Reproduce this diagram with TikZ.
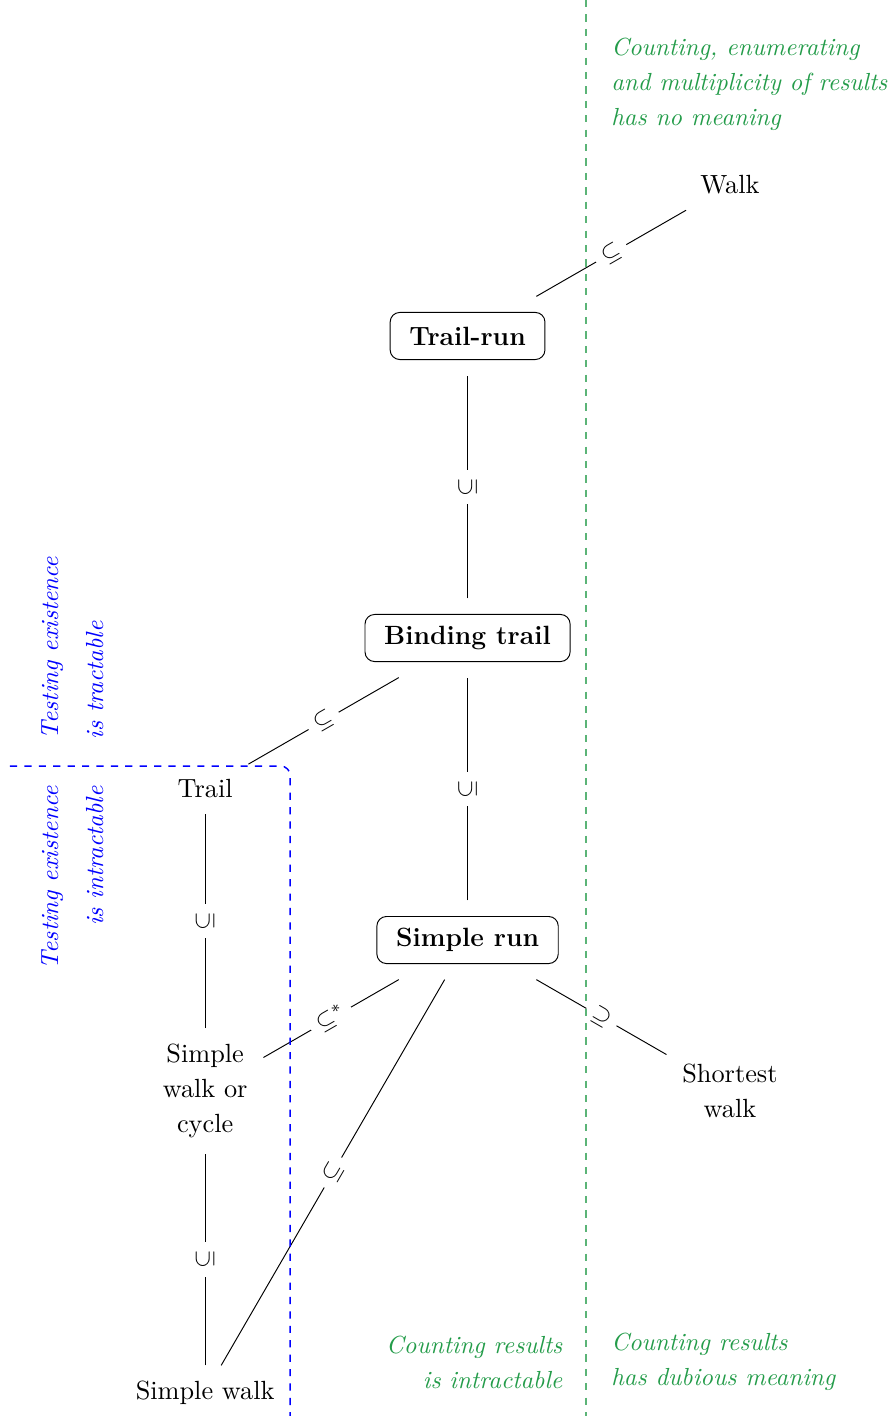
\documentclass[tikz,border=0pt]{standalone}
\usepackage{amssymb}
\usepackage{amsmath}
\usepackage{tikz}
\usetikzlibrary{arrows,shapes}
\definecolor{cntgreen}{rgb}{0.14,0.61,0.29}
\newcommand{\inners}{3.3pt}
\newcommand{\outers}{3.3pt}

\begin{document}
\begin{tikzpicture}[x=3.84cm,y=2.21cm,font=\fontsize{10}{14.6}\selectfont]
  \tikzset{plain/.style={align=center, inner sep=\inners, outer sep=\outers,
      font=\fontsize{10.95}{14.6}\selectfont},
    boxed/.style={draw, rounded corners=4pt, font=\fontsize{11}{13.6}\selectfont\bfseries,
      inner xsep=8pt, minimum height=19.6pt, outer sep=6.7pt},
    sub/.style={fill=white, inner sep=3.3pt, font=\fontsize{10}{12}\selectfont},
    note/.style={font=\fontsize{10.3}{14.6}\selectfont\itshape, inner sep=0pt},
    sep/.style={dashed}}
  \useasboundingbox (-1.782,-3.152) rectangle (1.599,6.225);

  \node[plain] (walk) at (1,5) {Walk};
  \node[boxed] (trailrun) at (0,4) {Trail-run};
  \node[boxed] (binding) at (0,2) {Binding trail};
  \node[boxed] (simplerun) at (0,0) {Simple run};
  \node[plain] (trail) at (-1,1) {Trail};
  \node[plain] (swc) at (-1,-1) {Simple\\walk or\\cycle};
  \node[plain] (shortest) at (1,-1) {Shortest\\walk};
  \node[plain] (simplewalk) at (-1,-3) {Simple walk};

  \draw (trailrun) -- node[sub,sloped] {$\subseteq$} (walk);
  \draw (binding) -- node[sub,rotate=90] {$\subseteq$} (trailrun);
  \draw (trail) -- node[sub,sloped] {$\subseteq$} (binding);
  \draw (simplerun) -- node[sub,rotate=90] {$\subseteq$} (binding);
  \draw (swc) -- node[sub,rotate=90] {$\subseteq$} (trail);
  \draw (swc) -- node[sub,sloped] {$\subseteq^*$} (simplerun);
  \draw (simplewalk) -- node[sub,rotate=90] {$\subseteq$} (swc);
  \draw (simplewalk) -- node[sub,sloped] {$\subseteq$} (simplerun);
  \draw (simplerun) -- node[sub,sloped] {$\supseteq$} (shortest);

  \draw[sep, draw=blue, line width=0.6pt, rounded corners] (-1.744,1.152) -- (-0.676,1.152) -- (-0.676,-3.152);
  \draw[sep, draw=cntgreen!75, line width=1pt] (0.451,6.225) -- (0.451,-3.152);

  \node[note, cntgreen, align=left, anchor=west] (nomeaning) at (0.546,5.669)
    {Counting, enumerating\\and multiplicity of results\\has no meaning};
  \node[note, cntgreen, align=right, anchor=east] (cntintract) at (0.363,-2.795)
    {Counting results\\is intractable};
  \node[note, cntgreen, align=left, anchor=west] (cntdubious) at (0.546,-2.795)
    {Counting results\\has dubious meaning};
  \node[note, blue, rotate=90, align=left, anchor=west] (testtract) at (-1.506,1.325)
    {Testing existence\\[4.15pt]is tractable};
  \node[note, blue, rotate=90, align=right, anchor=east] (testintract) at (-1.506,1.02)
    {Testing existence\\[4.15pt]is intractable};
\end{tikzpicture}
\end{document}
